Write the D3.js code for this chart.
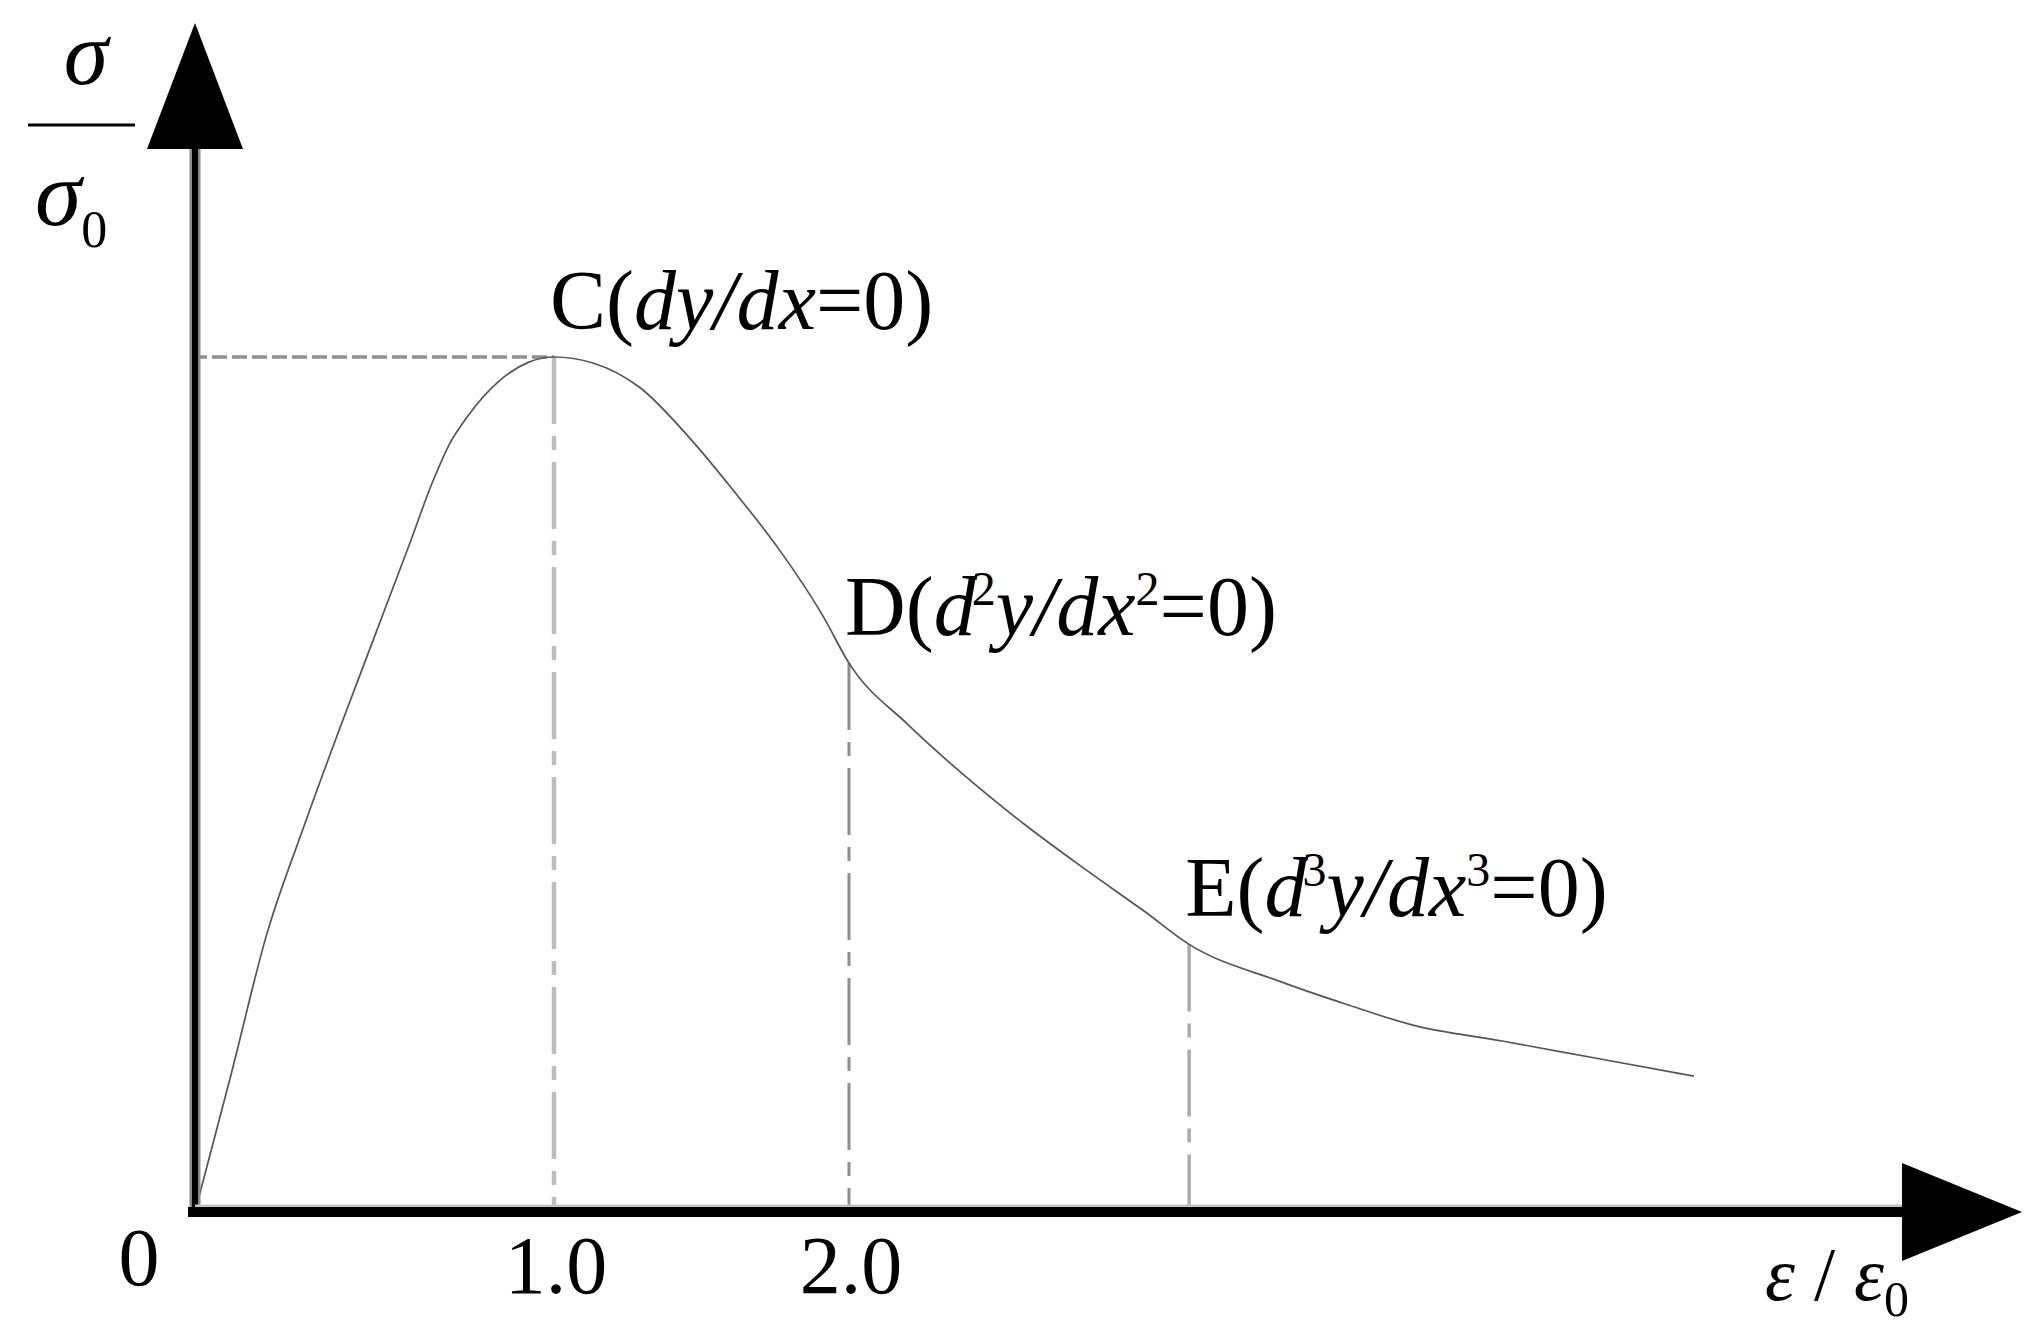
<!DOCTYPE html>
<html>
<head>
<meta charset="utf-8">
<script src="https://cdn.jsdelivr.net/npm/d3@7"></script>
<style>
  html, body { margin: 0; padding: 0; background: #fff; }
  svg { display: block; }
  text { font-family: "Liberation Serif", "Times New Roman", serif; fill: #000; }
</style>
</head>
<body>
<script>
// ---------------- data ----------------
const strainRatio = [0, 0.1, 0.2, 0.3, 0.4, 0.5, 0.6, 0.66, 0.71, 0.76, 0.85, 0.93, 1.0,
  1.132, 1.292, 1.458, 1.610, 1.763, 1.912, 2.0,
  2.2, 2.4, 2.6, 2.8, 3.0, 3.153,
  3.458, 3.685, 3.918, 4.214, 4.515, 4.864];
const stressRatio = [0, 0.160, 0.325, 0.447, 0.562, 0.673, 0.784, 0.852, 0.899, 0.931, 0.973, 0.994, 1.0,
  0.993, 0.964, 0.906, 0.843, 0.775, 0.697, 0.642,
  0.570, 0.508, 0.452, 0.401, 0.352, 0.313,
  0.270, 0.243, 0.218, 0.200, 0.181, 0.159];

const keyPointX = [1.0, 2.0, 3.153];
const keyPointY = [1.0, 0.642, 0.313];
const keyPointName = ["C", "D", "E"];
const keyPointOrder = ["", "2", "3"];   // derivative order shown in label

const tickValues = [1.0, 2.0];
const tickLabels = ["1.0", "2.0"];
const originLabel = "0";

// ---------------- layout ----------------
const W = 2035, H = 1337;
const originX = 195, originY = 1212;
const unitFirst = 359, unitNext = 295;  // schematic (non-uniform) x spacing
const peakY = 357;
const yTop = 23, xEnd = 2022;
const arrowLenY = 126, arrowHalfY = 48;
const arrowLenX = 120, arrowHalfX = 49;
const FS = 84;

const x = d3.scaleLinear()
  .domain([0, 1, 2])
  .range([originX, originX + unitFirst, originX + unitFirst + unitNext]);
const y = d3.scaleLinear().domain([0, 1]).range([originY, peakY]);

const svg = d3.select("body").append("svg")
  .attr("width", W).attr("height", H);

// ---------------- guide lines ----------------
svg.append("line")
  .attr("x1", originX - 3).attr("x2", x(keyPointX[0]))
  .attr("y1", y(keyPointY[0])).attr("y2", y(keyPointY[0]))
  .attr("stroke", "#8f8f8f").attr("stroke-width", 3.5)
  .attr("stroke-dasharray", "15,5");

const vStyles = [
  { color: "#bdbdbd", w: 4.5 },
  { color: "#8e8e8e", w: 3 },
  { color: "#ababab", w: 3.5 }
];
keyPointX.forEach((px, i) => {
  svg.append("line")
    .attr("x1", x(px)).attr("x2", x(px))
    .attr("y1", y(keyPointY[i])).attr("y2", y(0) - 4)
    .attr("stroke", vStyles[i].color)
    .attr("stroke-width", vStyles[i].w)
    .attr("stroke-dasharray", "67,12,14,12");
});

// ---------------- curve ----------------
const pts = strainRatio.map((v, i) => [v, stressRatio[i]]);
const line = d3.line()
  .x(d => x(d[0])).y(d => y(d[1]))
  .curve(d3.curveMonotoneX);
svg.append("path")
  .attr("d", line(pts))
  .attr("fill", "none")
  .attr("stroke", "#555")
  .attr("stroke-width", 1.7);

// ---------------- axes ----------------
svg.append("line")
  .attr("x1", originX).attr("x2", originX)
  .attr("y1", yTop + arrowLenY - 2).attr("y2", originY + 5)
  .attr("stroke", "#8a8a8a").attr("stroke-width", 11);
svg.append("line")
  .attr("x1", originX).attr("x2", originX)
  .attr("y1", yTop + arrowLenY - 2).attr("y2", originY + 5)
  .attr("stroke", "#000").attr("stroke-width", 6);
svg.append("polygon")
  .attr("points", [[originX, yTop], [originX - arrowHalfY, yTop + arrowLenY], [originX + arrowHalfY, yTop + arrowLenY]].join(" "))
  .attr("fill", "#000");

svg.append("line")
  .attr("x1", originX).attr("x2", xEnd - arrowLenX)
  .attr("y1", originY - 6).attr("y2", originY - 6)
  .attr("stroke", "#c4c4c4").attr("stroke-width", 3);
svg.append("line")
  .attr("x1", originX - 7).attr("x2", xEnd - arrowLenX + 2)
  .attr("y1", originY).attr("y2", originY)
  .attr("stroke", "#000").attr("stroke-width", 10);
svg.append("polygon")
  .attr("points", [[xEnd, originY], [xEnd - arrowLenX, originY - arrowHalfX], [xEnd - arrowLenX, originY + arrowHalfX]].join(" "))
  .attr("fill", "#000");

// tick labels
svg.selectAll("text.tick").data(tickValues).enter().append("text")
  .attr("class", "tick")
  .attr("x", d => x(d) + 2)
  .attr("y", originY + 81)
  .attr("text-anchor", "middle")
  .attr("font-size", 82)
  .text((d, i) => tickLabels[i]);

svg.append("text")
  .attr("x", x(0) - 56).attr("y", originY + 73)
  .attr("text-anchor", "middle")
  .attr("font-size", 82)
  .text(originLabel);

// x axis title: ε / ε0
const xt = svg.append("text")
  .attr("x", 1765).attr("y", 1300)
  .attr("font-size", 76);
xt.append("tspan").attr("font-style", "italic").text("ε");
xt.append("tspan").text(" / ");
xt.append("tspan").attr("font-style", "italic").text("ε");
xt.append("tspan").attr("font-size", 50).attr("dy", 16).text("0");

// y axis title: σ over σ0
svg.append("text")
  .attr("x", 86).attr("y", 84)
  .attr("text-anchor", "middle")
  .attr("font-size", 90).attr("font-style", "italic")
  .text("σ");
svg.append("line")
  .attr("x1", 28).attr("x2", 135)
  .attr("y1", 125).attr("y2", 125)
  .attr("stroke", "#000").attr("stroke-width", 3);
const yt = svg.append("text")
  .attr("x", 35).attr("y", 225)
  .attr("font-size", 94);
yt.append("tspan").attr("font-style", "italic").text("σ");
yt.append("tspan").attr("font-size", 52).attr("dy", 22).text("0");

// ---------------- point labels ----------------
keyPointX.forEach((px, i) => {
  const t = svg.append("text")
    .attr("x", x(px) - 4)
    .attr("y", y(keyPointY[i]) - 28)
    .attr("font-size", FS);
  const ord = keyPointOrder[i];
  t.append("tspan").text(keyPointName[i] + "(");
  t.append("tspan").attr("font-style", "italic").text("d");
  if (ord) {
    t.append("tspan").attr("font-size", 48).attr("dy", -30).attr("dx", -4).text(ord);
    t.append("tspan").attr("font-style", "italic").attr("dy", 30).text("y/d");
  } else {
    t.append("tspan").attr("font-style", "italic").text("y/d");
  }
  t.append("tspan").attr("font-style", "italic").text("x");
  if (ord) {
    t.append("tspan").attr("font-size", 48).attr("dy", -30).text(ord);
    t.append("tspan").attr("dy", 30).text("=0)");
  } else {
    t.append("tspan").text("=0)");
  }
});
</script>
</body>
</html>
